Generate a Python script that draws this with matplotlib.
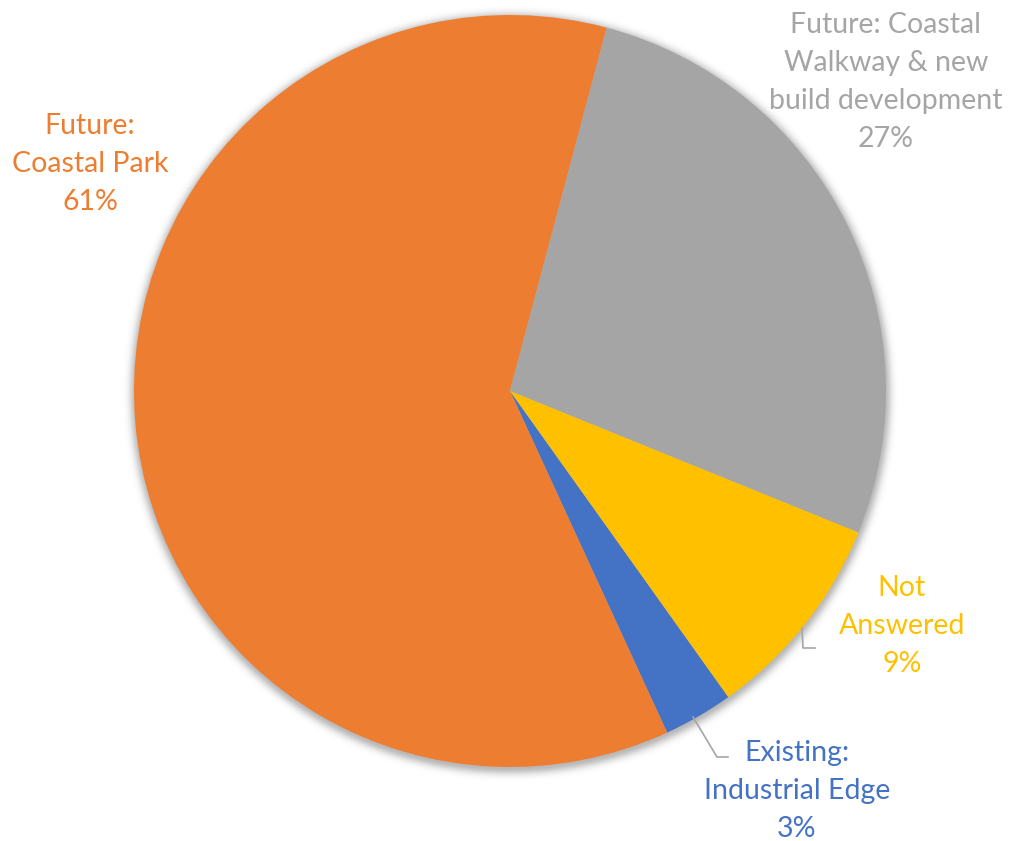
import numpy as np
import matplotlib.pyplot as plt

plt.rcParams['font.family'] = ['Lato', 'DejaVu Sans']

# slices in clockwise order, starting at the blue one
labels = ['Existing:\nIndustrial Edge', 'Future:\nCoastal Park',
          'Future: Coastal\nWalkway & new\nbuild development', 'Not\nAnswered']
values = [3, 61, 27, 9]
colors = ['#4472C4', '#ED7D31', '#A5A5A5', '#FFC000']

W, H = 1013, 841
cx, cy, r = 510, H - 391, 376

fig = plt.figure(figsize=(W / 100, H / 100), dpi=100)
ax = fig.add_axes([0, 0, 1, 1])
ax.set_xlim(0, W)
ax.set_ylim(0, H)
ax.set_aspect('equal')
ax.axis('off')

# soft shadow around the pie
yy, xx = np.mgrid[0:H, 0:W]
d = np.hypot(xx - cx, (H - yy) - (cy - 2))
a = np.where(d > r - 2, 0.28 * np.exp(-((d - r + 2) / 7.0) ** 2), 0.28)
shadow = np.zeros((H, W, 4))
shadow[..., 3] = a
ax.imshow(shadow, extent=(0, W, 0, H), zorder=0, interpolation='bilinear')

ax.pie(values, colors=colors, startangle=-54.5, counterclock=False,
       center=(cx, cy), radius=r, frame=True,
       wedgeprops=dict(linewidth=0, zorder=1))
ax.set_xlim(0, W)
ax.set_ylim(0, H)
ax.axis('off')

# label positions in pixels from the top left
label_pos = [(797, 791), (90, 164), (886, 82), (902, 626)]
for lab, v, c, (px, py) in zip(labels, values, colors, label_pos):
    ax.text(px, H - py, f'{lab}\n{v}%', color=c, fontsize=20.5,
            ha='center', va='center', linespacing=1.58, zorder=3)

# leader lines
lead = '#A5A5A5'
ax.plot([693, 717, 728], [H - 717, H - 757, H - 757], color=lead, lw=1.2, zorder=2)
ax.plot([802, 803, 815], [H - 628, H - 648, H - 648], color=lead, lw=1.2, zorder=2)

fig.savefig('out.png', dpi=100, facecolor='white')
